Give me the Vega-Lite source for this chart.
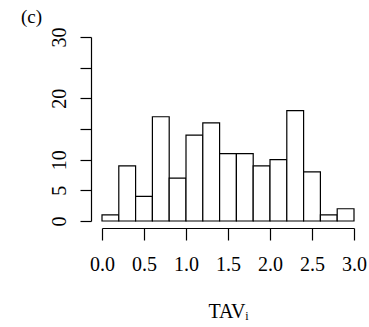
{
  "$schema": "https://vega.github.io/schema/vega-lite/v6.json",
  "autosize": "none",
  "width": 252,
  "height": 184,
  "padding": {"left": 102, "top": 37, "right": 15, "bottom": 106},
  "background": "white",
  "config": {
    "view": {"stroke": null},
    "font": "Liberation Serif",
    "axis": {
      "domainColor": "black",
      "domainWidth": 1.2,
      "tickColor": "black",
      "tickWidth": 1.2,
      "grid": false,
      "labelColor": "black",
      "labelFont": "Liberation Serif",
      "labelFontSize": 20,
      "titleFont": "Liberation Serif",
      "titleFontSize": 20,
      "titleFontWeight": "normal",
      "titleColor": "black"
    }
  },
  "title": {
    "text": "(c)",
    "anchor": "start",
    "frame": "group",
    "dx": -81,
    "dy": 18,
    "offset": 3,
    "baseline": "alphabetic",
    "font": "Liberation Serif",
    "fontSize": 19,
    "fontWeight": "normal",
    "color": "black"
  },
  "data": {
    "values": [
      {"lo": 0.0, "hi": 0.2, "n": 1},
      {"lo": 0.2, "hi": 0.4, "n": 9},
      {"lo": 0.4, "hi": 0.6, "n": 4},
      {"lo": 0.6, "hi": 0.8, "n": 17},
      {"lo": 0.8, "hi": 1.0, "n": 7},
      {"lo": 1.0, "hi": 1.2, "n": 14},
      {"lo": 1.2, "hi": 1.4, "n": 16},
      {"lo": 1.4, "hi": 1.6, "n": 11},
      {"lo": 1.6, "hi": 1.8, "n": 11},
      {"lo": 1.8, "hi": 2.0, "n": 9},
      {"lo": 2.0, "hi": 2.2, "n": 10},
      {"lo": 2.2, "hi": 2.4, "n": 18},
      {"lo": 2.4, "hi": 2.6, "n": 8},
      {"lo": 2.6, "hi": 2.8, "n": 1},
      {"lo": 2.8, "hi": 3.0, "n": 2}
    ]
  },
  "mark": {"type": "rect", "fill": "white", "stroke": "black", "strokeWidth": 1.2},
  "encoding": {
    "x": {
      "field": "lo",
      "type": "quantitative",
      "scale": {"domain": [0, 3], "nice": false, "zero": false},
      "axis": {
        "values": [0, 0.5, 1, 1.5, 2, 2.5, 3],
        "format": ".1f",
        "offset": 7,
        "tickSize": 12,
        "labelPadding": 30,
        "labelBaseline": "alphabetic",
        "labelFlush": false,
        "labelOverlap": false,
        "title": "TAVᵢ",
        "titleBaseline": "alphabetic",
        "titlePadding": 43
      }
    },
    "x2": {"field": "hi"},
    "y": {
      "field": "n",
      "type": "quantitative",
      "scale": {"domain": [0, 30], "nice": false},
      "axis": {
        "values": [0, 5, 10, 15, 20, 25, 30],
        "labelExpr": "datum.value == 15 || datum.value == 25 ? '' : datum.label",
        "offset": 11,
        "tickSize": 11,
        "labelAngle": 270,
        "labelAlign": "center",
        "labelBaseline": "alphabetic",
        "labelPadding": 15,
        "labelFlush": false,
        "labelOverlap": false,
        "title": null
      }
    },
    "y2": {"datum": 0}
  }
}
